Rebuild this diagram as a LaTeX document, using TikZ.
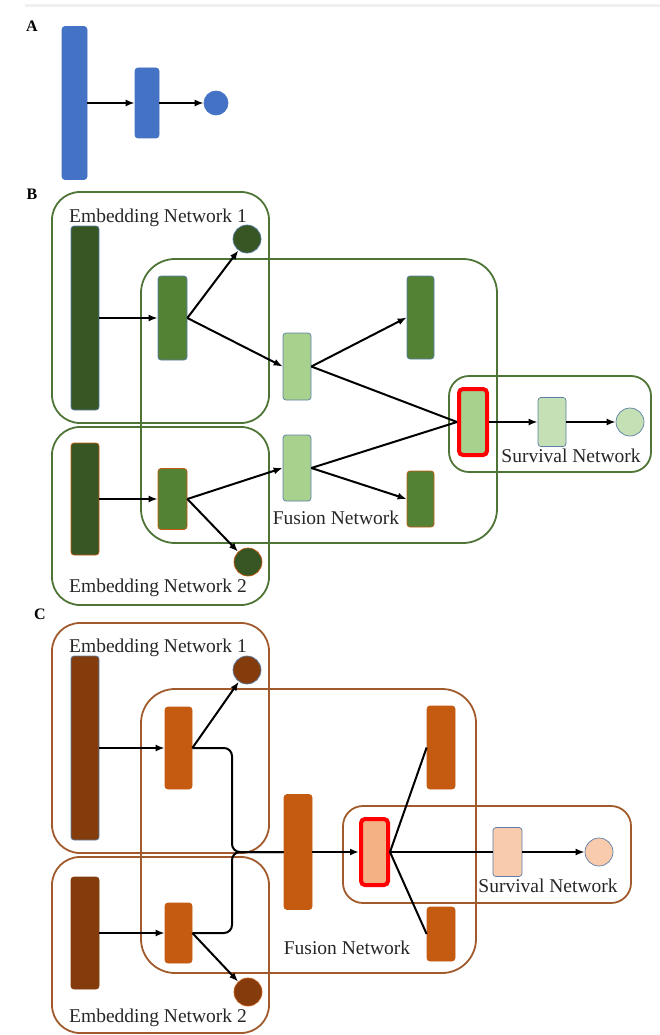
\documentclass[tikz,border=0pt]{standalone}
\usepackage{fontspec}
\setmainfont{Liberation Serif}
\usetikzlibrary{arrows.meta}

\definecolor{lblue}{HTML}{4472C4}
\definecolor{bluegray}{HTML}{5B7FA8}
\definecolor{gdark}{HTML}{375623}
\definecolor{gmid}{HTML}{548235}
\definecolor{glight}{HTML}{A9D18E}
\definecolor{gpale}{HTML}{C5E0B4}
\definecolor{gbox}{HTML}{4E7436}
\definecolor{odark}{HTML}{843C0C}
\definecolor{omid}{HTML}{C55A11}
\definecolor{olight}{HTML}{F4B183}
\definecolor{opale}{HTML}{F8CBAD}
\definecolor{obox}{HTML}{A05A2C}
\definecolor{txt}{HTML}{262626}

\begin{document}
\begin{tikzpicture}[x=1pt,y=-1pt,
  blk/.style={rectangle, rounded corners=3pt, inner sep=0pt, line width=0.7pt},
  dot/.style={circle, inner sep=0pt, minimum size=28pt, line width=0.7pt},
  hot/.style={rectangle, rounded corners=4pt, inner sep=0pt, draw=red, line width=4pt},
  conn/.style={line width=2pt, black},
  arr/.style={conn, -{Latex[length=9pt,width=7pt]}},
  grpG/.style={draw=gbox, line width=1.8pt},
  grpO/.style={draw=obox, line width=1.8pt},
  lbl/.style={inner sep=0pt, text=txt, font=\fontsize{19.5}{22}\selectfont},
  tag/.style={inner sep=0pt, text=black, font=\fontsize{16}{18}\selectfont\bfseries}]

\useasboundingbox (0,0) rectangle (660,1035);
\fill[black!6] (25,4.5) rectangle (660,7.5);

% ---------------- A ----------------
\node[tag, anchor=base] (tA) at (32,32) {A};
\node[blk, fill=lblue, draw=lblue, minimum width=25pt, minimum height=153pt] (aIn) at (74.5,103) {};
\node[blk, fill=lblue, draw=lblue, minimum width=24pt, minimum height=70pt] (aMid) at (147,103) {};
\node[dot, fill=lblue, draw=lblue, minimum size=24pt] (aOut) at (216,103) {};
\draw[arr] (aIn.east) -- (aMid.west);
\draw[arr] (aMid.east) -- (aOut.west);

% ---------------- B ----------------
\node[tag, anchor=base] (tB) at (32,200) {B};
\draw[grpG, rounded corners=28pt] (52,192) rectangle (269,423);
\draw[grpG, rounded corners=28pt] (52,427) rectangle (269,605);
\draw[grpG, rounded corners=34pt] (141,259) rectangle (497,543);
\draw[grpG, rounded corners=20pt] (449,376) rectangle (651,472);

\node[lbl, anchor=base] (bL1) at (158,222) {Embedding Network 1};
\node[lbl, anchor=base] (bL2) at (158,592) {Embedding Network 2};
\node[lbl, anchor=base] (bLF) at (336,524) {Fusion Network};
\node[lbl, anchor=base] (bLS) at (571,462) {Survival Network};

\node[blk, fill=gdark, draw=bluegray, minimum width=28pt, minimum height=184pt] (bIn1) at (85,318) {};
\node[blk, fill=gmid, draw=bluegray, minimum width=29pt, minimum height=84pt] (bEmb1) at (172.5,318) {};
\node[dot, fill=gdark, draw=bluegray] (bOut1) at (247,239) {};
\node[blk, fill=gdark, draw=omid, minimum width=28pt, minimum height=112pt] (bIn2) at (85,499) {};
\node[blk, fill=gmid, draw=omid, minimum width=29pt, minimum height=61pt] (bEmb2) at (172.5,499) {};
\node[dot, fill=gdark, draw=omid] (bOut2) at (248,562) {};
\node[blk, fill=glight, draw=bluegray, minimum width=28pt, minimum height=67pt] (bF1) at (297,366.5) {};
\node[blk, fill=glight, draw=bluegray, minimum width=28pt, minimum height=66pt] (bF2) at (297,468) {};
\node[blk, fill=gmid, draw=bluegray, minimum width=27pt, minimum height=83pt] (bR1) at (420.5,317.5) {};
\node[blk, fill=gmid, draw=omid, minimum width=27pt, minimum height=56pt] (bR2) at (420.5,499) {};
\node[hot, fill=glight, minimum width=28pt, minimum height=66pt] (bRed) at (473,422) {};
\node[blk, fill=gpale, draw=bluegray, minimum width=28pt, minimum height=49pt] (bSurv) at (552,422) {};
\node[dot, fill=gpale, draw=bluegray] (bSo) at (630,422) {};

\draw[arr] (bIn1.east |- bEmb1.west) -- (bEmb1.west);
\draw[arr] (bEmb1.east) -- (bOut1);
\draw[arr] (bEmb1.east) -- (bF1.west);
\draw[arr] (bIn2.east |- bEmb2.west) -- (bEmb2.west);
\draw[arr] (bEmb2.east) -- (bOut2);
\draw[arr] (bEmb2.east) -- (bF2.west);
\draw[arr] (bF1.east) -- (bR1.west);
\draw[arr] (bF2.east) -- (bR2.west);
\draw[conn] (bF1.east) -- (bRed.west);
\draw[conn] (bF2.east) -- (bRed.west);
\draw[arr] (bRed.east) -- (bSurv.west);
\draw[arr] (bSurv.east) -- (bSo.west);

% ---------------- C ----------------
\node[tag, anchor=base] (tC) at (40,619) {C};
\draw[grpO, rounded corners=28pt] (52,623) rectangle (269,853);
\draw[grpO, rounded corners=28pt] (52,857) rectangle (269,1033);
\draw[grpO, rounded corners=34pt] (141,689) rectangle (476,973);
\draw[grpO, rounded corners=20pt] (343,806) rectangle (631,903);

\node[lbl, anchor=base] (cL1) at (158,652) {Embedding Network 1};
\node[lbl, anchor=base] (cL2) at (158,1022) {Embedding Network 2};
\node[lbl, anchor=base] (cLF) at (347,954) {Fusion Network};
\node[lbl, anchor=base] (cLS) at (548,892) {Survival Network};

\node[blk, fill=odark, draw=bluegray, minimum width=28pt, minimum height=184pt] (cIn1) at (85,748) {};
\node[blk, fill=omid, draw=omid, minimum width=27pt, minimum height=82pt] (cEmb1) at (178.5,748) {};
\node[dot, fill=odark, draw=bluegray] (cOut1) at (247,670) {};
\node[blk, fill=odark, draw=odark, minimum width=28pt, minimum height=112pt] (cIn2) at (85,933) {};
\node[blk, fill=omid, draw=omid, minimum width=27pt, minimum height=60pt] (cEmb2) at (178.5,933) {};
\node[dot, fill=odark, draw=omid] (cOut2) at (248,992) {};
\node[blk, fill=omid, draw=omid, minimum width=28pt, minimum height=115pt] (cBig) at (298,852) {};
\node[hot, fill=olight, minimum width=27pt, minimum height=66pt] (cRed) at (374.5,852) {};
\node[blk, fill=omid, draw=omid, minimum width=28pt, minimum height=83pt] (cR1) at (441,747.5) {};
\node[blk, fill=omid, draw=omid, minimum width=28pt, minimum height=54pt] (cR2) at (441,934) {};
\node[blk, fill=opale, draw=bluegray, minimum width=29pt, minimum height=49pt] (cSurv) at (507.5,852) {};
\node[dot, fill=opale, draw=bluegray] (cSo) at (599,852) {};

\coordinate (cJoin) at (232,852);
\draw[arr] (cIn1.east |- cEmb1.west) -- (cEmb1.west);
\draw[arr] (cEmb1.east) -- (cOut1);
\draw[arr] (cIn2.east |- cEmb2.west) -- (cEmb2.west);
\draw[arr] (cEmb2.east) -- (cOut2);
\draw[conn, rounded corners=8pt] (cEmb1.east) -| (cJoin) -- (cBig.west);
\draw[conn, rounded corners=8pt] (cEmb2.east) -| (cJoin) -- (cBig.west);
\draw[arr] (cBig.east) -- (cRed.west);
\draw[conn] (cRed.east) -- (cR1.west);
\draw[conn] (cRed.east) -- (cR2.west);
\draw[conn] (cRed.east) -- (cSurv.west);
\draw[arr] (cSurv.east) -- (cSo.west);

\end{tikzpicture}
\end{document}
